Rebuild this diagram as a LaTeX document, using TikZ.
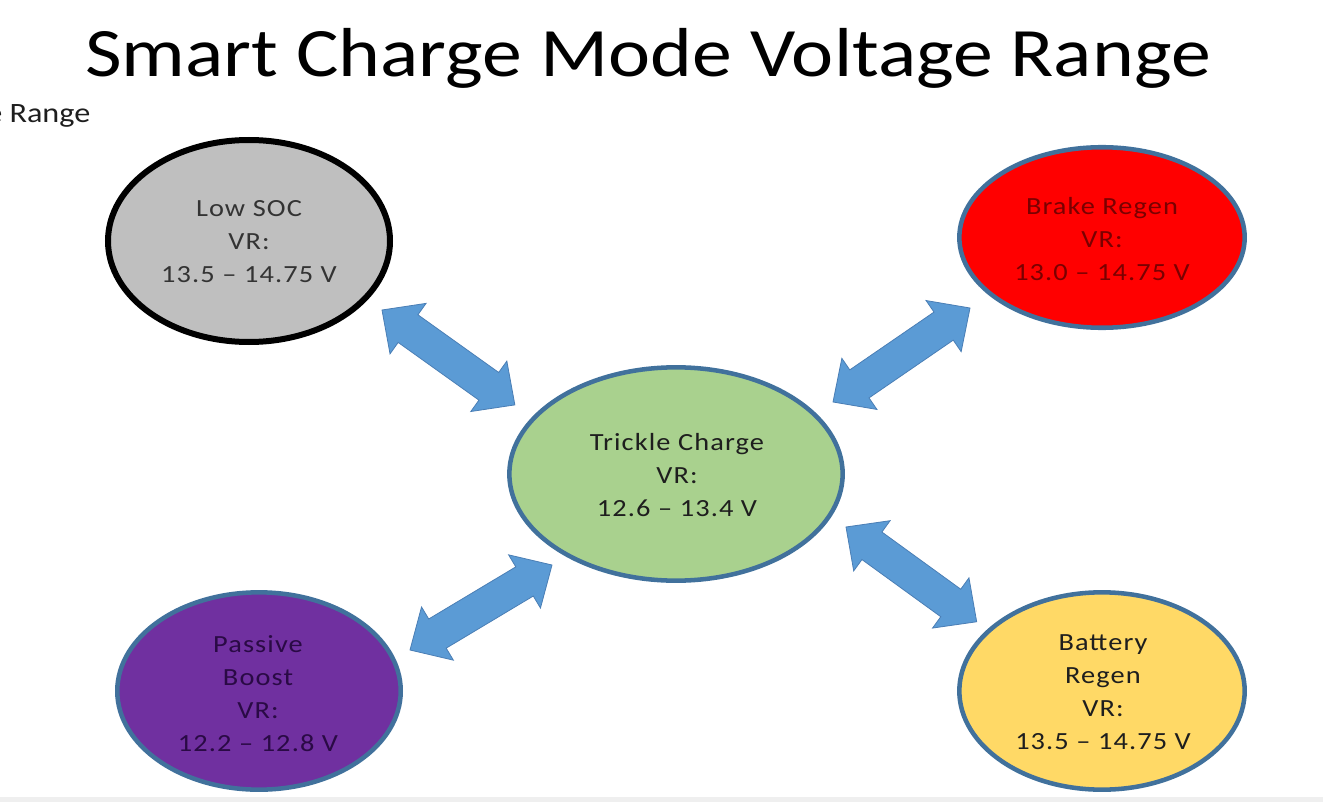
\documentclass[tikz,border=0pt]{standalone}
\usepackage{fontspec}
\setmainfont{Carlito}[FakeStretch=1.15]
\newfontfamily\bubblefont{Carlito}[FakeStretch=1.15,LetterSpace=4.5]
\usetikzlibrary{shapes.geometric,calc}
\definecolor{edgeblue}{HTML}{41719C}
\definecolor{arrowblue}{HTML}{5B9BD5}
\definecolor{arrowedge}{HTML}{4A7EB5}
\definecolor{lowgray}{HTML}{BFBFBF}
\definecolor{brakered}{HTML}{FF0000}
\definecolor{trickgreen}{HTML}{A9D18E}
\definecolor{passpurple}{HTML}{7030A0}
\definecolor{battyellow}{HTML}{FFD966}
\definecolor{inktext}{HTML}{1E1E1E}
\definecolor{lowtext}{HTML}{333333}
\definecolor{braketext}{HTML}{7A0000}
\definecolor{passtext}{HTML}{2A0A45}
\definecolor{stripgray}{HTML}{EFEFEF}
\newcommand\dblarrow[2]{%
  \path[blockarrow] let \p1=(#1), \p2=(#2),
      \n1={atan2(\y2-\y1,\x2-\x1)}, \n2={veclen(\x2-\x1,\y2-\y1)} in
    [shift={(\p1)}, rotate=\n1]
    (0pt,0pt) -- (24pt,23.25pt) -- (24pt,12.75pt) -- ({\n2-24pt},12.75pt)
    -- ({\n2-24pt},23.25pt) -- ({\n2-0pt},0pt) -- ({\n2-24pt},-23.25pt)
    -- ({\n2-24pt},-12.75pt) -- (24pt,-12.75pt) -- (24pt,-23.25pt) -- cycle;}
\begin{document}
\begin{tikzpicture}[x=0.75pt,y=-0.75pt,
  bubble/.style={ellipse, inner sep=0pt, draw=edgeblue, line width=3.4pt},
  bubbletext/.style={align=center, font=\bubblefont\fontsize{18.5}{24.75}\selectfont, text=inktext},
  blockarrow/.style={fill=arrowblue, draw=arrowedge, line width=0.6pt, line join=miter}]
\useasboundingbox (0,0) rectangle (1323,802);
\fill[stripgray] (0,797) rectangle (1323,802);
\begin{scope}
\clip (0,0) rectangle (1323,802);
\node[anchor=base west, inner sep=0pt, font=\fontsize{21}{24}\selectfont, text=inktext] (corner) at (-14,123) {e Range};
\end{scope}
\node[anchor=base, inner sep=0pt, font=\fontsize{52}{60}\selectfont, text=black] (title) at (648,77) {Smart Charge Mode Voltage Range};
% ellipses
\node[bubble, draw=black, line width=4.5pt, fill=lowgray, minimum width=211.5pt, minimum height=151.5pt] (low) at (249,241) {};
\node[bubble, fill=brakered, minimum width=214pt, minimum height=135.4pt] (brake) at (1102,237.5) {};
\node[bubble, fill=trickgreen, minimum width=250pt, minimum height=160pt] (trickle) at (676,474) {};
\node[bubble, fill=passpurple, minimum width=212.6pt, minimum height=148pt] (passive) at (259,691) {};
\node[bubble, fill=battyellow, minimum width=214pt, minimum height=148pt] (battery) at (1102,691) {};
% texts
\node[bubbletext, text=lowtext] (lowtxt) at (249,242) {Low SOC\\VR:\\13.5 – 14.75 V};
\node[bubbletext, text=braketext] (braketxt) at (1102,239) {Brake Regen\\VR:\\13.0 – 14.75 V};
\node[bubbletext] (tricktxt) at (677,475) {Trickle Charge\\VR:\\12.6 – 13.4 V};
\node[bubbletext, text=passtext] (passtxt) at (258,694) {Passive\\Boost\\VR:\\12.2 – 12.8 V};
\node[bubbletext] (batttxt) at (1103,692) {Battery\\Regen\\VR:\\13.5 – 14.75 V};
% arrow end points
\coordinate (a1s) at (382,310); \coordinate (a1e) at (515,405);
\coordinate (a2s) at (970,308); \coordinate (a2e) at (833,402);
\coordinate (a3s) at (410,650); \coordinate (a3e) at (552,565);
\coordinate (a4s) at (846,527); \coordinate (a4e) at (977,622);
\dblarrow{a1s}{a1e}
\dblarrow{a2s}{a2e}
\dblarrow{a3s}{a3e}
\dblarrow{a4s}{a4e}
\end{tikzpicture}
\end{document}
